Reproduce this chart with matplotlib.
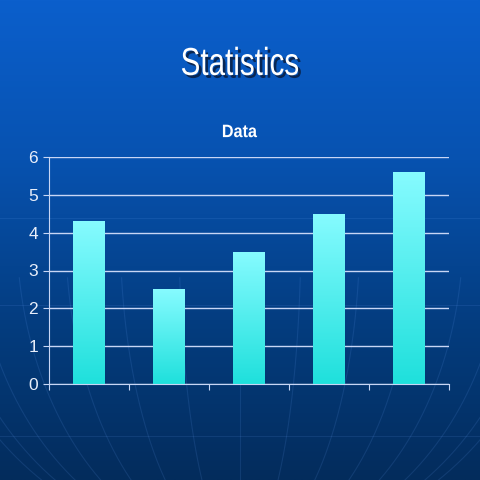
import numpy as np
import matplotlib.pyplot as plt
import matplotlib.patheffects as pe
from matplotlib.colors import LinearSegmentedColormap
from matplotlib.textpath import TextPath
from matplotlib.patches import PathPatch
from matplotlib.font_manager import FontProperties
from matplotlib.transforms import Affine2D

values = [4.3, 2.5, 3.5, 4.5, 5.6]
categories = ["1", "2", "3", "4", "5"]
yticks = [0, 1, 2, 3, 4, 5, 6]

fig = plt.figure(figsize=(4.8, 4.8), dpi=100)

# background gradient with faint globe lines
bg = fig.add_axes([0, 0, 1, 1])
bg_cmap = LinearSegmentedColormap.from_list(
    "bg", ["#0b5fcc", "#0752b0", "#043d80", "#032c5c"])
grad = np.linspace(0, 1, 256).reshape(-1, 1)
bg.imshow(grad, cmap=bg_cmap, aspect="auto", extent=[0, 480, 480, 0])
lat = np.linspace(0.15, np.pi / 2, 200)
for lon in np.linspace(-1.3, 1.3, 15):
    xs = 240 + 330 * np.sin(lon) * np.cos(lat)
    ys = 230 + 320 * np.sin(lat)
    bg.plot(xs, ys, color="#6fa8ff", lw=0.8, alpha=0.13)
for yy in [218, 305, 436]:
    bg.axhline(yy, color="#6fa8ff", lw=0.8, alpha=0.12)
bg.set_xlim(0, 480)
bg.set_ylim(480, 0)
bg.axis("off")


def narrow_text(s, cx, cy, size, sx, weight="normal", shadow=False):
    # text squeezed horizontally, placed in pixels (cy measured from top)
    tp = TextPath((0, 0), s, size=size,
                  prop=FontProperties(family="Liberation Sans", weight=weight))
    ext = tp.get_extents()
    tr = (Affine2D().translate(-(ext.x0 + ext.x1) / 2, -(ext.y0 + ext.y1) / 2)
          .scale(sx, 1).translate(cx, 480 - cy))
    effects = []
    if shadow:
        effects = [pe.withSimplePatchShadow(offset=(2, -2),
                                            shadow_rgbFace="#0a1e40",
                                            alpha=0.85)]
    patch = PathPatch(tr.transform_path(tp), facecolor="white",
                      edgecolor="none", path_effects=effects)
    patch.set_transform(Affine2D())
    fig.add_artist(patch)


narrow_text("Statistics", 240, 61, 39, 0.76, shadow=True)
narrow_text("Data", 240, 131, 18, 0.9, weight="bold")

ax = fig.add_axes([49 / 480, 0.2, 400 / 480, 227 / 480])
ax.patch.set_alpha(0)
x = np.arange(len(values))
bars = ax.bar(x, values, width=0.4, color="none", zorder=3)
bar_cmap = LinearSegmentedColormap.from_list("bar", ["#1fe0dc", "#86fbff"])
for b in bars:
    x0, y0 = b.get_x(), b.get_y()
    w, h = b.get_width(), b.get_height()
    im = ax.imshow(np.linspace(1, 0, 100).reshape(-1, 1), cmap=bar_cmap,
                   aspect="auto", extent=[x0, x0 + w, y0, y0 + h], zorder=3)
    im.set_clip_path(b)

ax.set_xlim(-0.5, len(values) - 0.5)
ax.set_ylim(0, 6)
ax.set_yticks(yticks)
ax.set_xticks(np.arange(len(values) + 1) - 0.5)
ax.set_xticklabels([])
line_c = "#c8d6f5"
ax.grid(axis="y", color=line_c, lw=1, zorder=1)
for s in ["top", "right"]:
    ax.spines[s].set_visible(False)
for s in ["left", "bottom"]:
    ax.spines[s].set_color(line_c)
    ax.spines[s].set_zorder(4)
ax.tick_params(axis="both", colors=line_c, length=4, direction="out")
ax.tick_params(axis="y", labelcolor="#e8eefa", labelsize=12.5, pad=4)
for t in ax.get_yticklabels():
    t.set_family("Liberation Sans")

plt.savefig("out.png", dpi=100)
